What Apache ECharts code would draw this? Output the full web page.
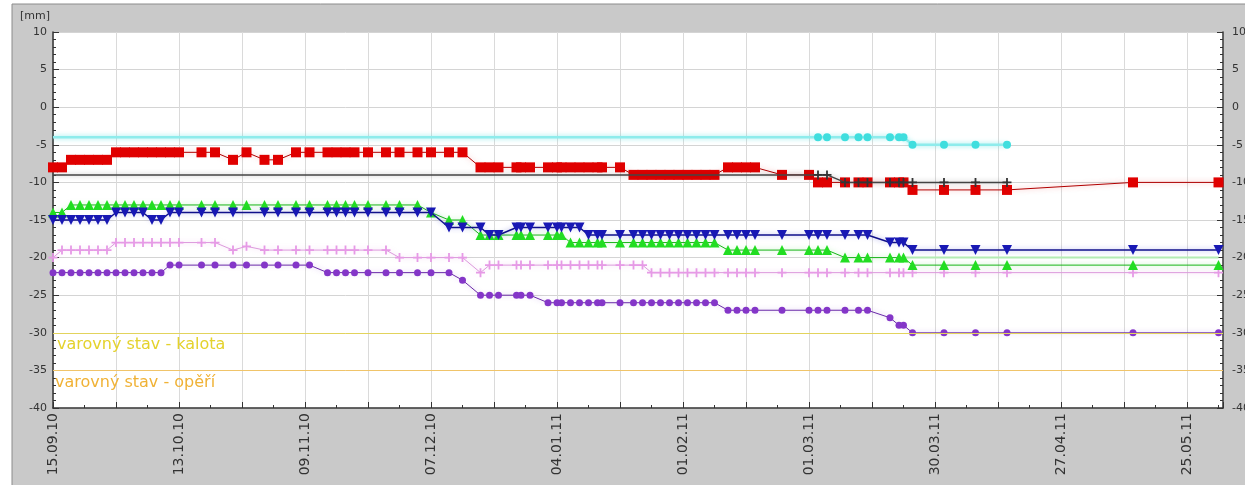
<!DOCTYPE html>
<html><head><meta charset="utf-8">
<script src="https://cdn.jsdelivr.net/npm/echarts@6/dist/echarts.min.js"></script>
<style>html,body{margin:0;padding:0;background:#fff;}#c{width:1245px;height:485px;}</style>
</head><body><div id="c"></div>
<script>
// x = days since 15.09.2010
const days = [0,2,4,6,8,10,12,14,16,18,20,22,24,26,28,
  33,36,40,43,47,50,54,57,61,63,65,67,70,74,77,81,84,88,91,
  95,97,99,103,104,106,110,112,113,115,117,119,121,122,126,
  129,131,133,135,137,139,141,143,145,147,150,152,154,156,162,
  168,170,172,176,179,181,186,188,189,191,198,205,212,240,259];
const tickLabels = ['15.09.10','13.10.10','09.11.10','07.12.10','04.01.11','01.02.11','01.03.11','30.03.11','27.04.11','25.05.11'];
const N = null;
const red = [-8,-8,-7,-7,-7,-7,-7,-6,-6,-6,-6,-6,-6,-6,-6,
  -6,-6,-7,-6,-7,-7,-6,-6,-6,-6,-6,-6,-6,-6,-6,-6,-6,-6,-6,
  -8,-8,-8,-8,-8,-8,-8,-8,-8,-8,-8,-8,-8,-8,-8,
  -9,-9,-9,-9,-9,-9,-9,-9,-9,-9,-8,-8,-8,-8,-9,
  -9,-10,-10,-10,-10,-10,-10,-10,-10,-11,-11,-11,-11,-10,-10];
const green = [-14,-14,-13,-13,-13,-13,-13,-13,-13,-13,-13,-13,-13,-13,-13,
  -13,-13,-13,-13,-13,-13,-13,-13,-13,-13,-13,-13,-13,-13,-13,-13,-14,-15,-15,
  -17,-17,-17,-17,-17,-17,-17,-17,-17,-18,-18,-18,-18,-18,-18,
  -18,-18,-18,-18,-18,-18,-18,-18,-18,-18,-19,-19,-19,-19,-19,
  -19,-19,-19,-20,-20,-20,-20,-20,-20,-21,-21,-21,-21,-21,-21];
const blue = [-15,-15,-15,-15,-15,-15,-15,-14,-14,-14,-14,-15,-15,-14,-14,
  -14,-14,-14,N,-14,-14,-14,-14,-14,-14,-14,-14,-14,-14,-14,-14,-14,-16,-16,
  -16,-17,-17,-16,-16,-16,-16,-16,-16,-16,-16,-17,-17,-17,-17,
  -17,-17,-17,-17,-17,-17,-17,-17,-17,-17,-17,-17,-17,-17,-17,
  -17,-17,-17,-17,-17,-17,-18,-18,-18,-19,-19,-19,-19,-19,-19];
const pink = [-20,-19,-19,-19,-19,-19,-19,-18,-18,-18,-18,-18,-18,-18,-18,
  -18,-18,-19,-18.5,-19,-19,-19,-19,-19,-19,-19,-19,-19,-19,-20,-20,-20,-20,-20,
  -22,-21,-21,-21,-21,-21,-21,-21,-21,-21,-21,-21,-21,-21,-21,
  -21,-21,-22,-22,-22,-22,-22,-22,-22,-22,-22,-22,-22,-22,-22,
  -22,-22,-22,-22,-22,-22,-22,-22,-22,-22,-22,-22,-22,-22,-22];
const purple = [-22,-22,-22,-22,-22,-22,-22,-22,-22,-22,-22,-22,-22,-21,-21,
  -21,-21,-21,-21,-21,-21,-21,-21,-22,-22,-22,-22,-22,-22,-22,-22,-22,-22,-23,
  -25,-25,-25,-25,-25,-25,-26,-26,-26,-26,-26,-26,-26,-26,-26,
  -26,-26,-26,-26,-26,-26,-26,-26,-26,-26,-27,-27,-27,-27,-27,
  -27,-27,-27,-27,-27,-27,-28,-29,-29,-30,-30,-30,-30,-30,-30];
const cyan = [-4,N,N,N,N,N,N,N,N,N,N,N,N,N,N,
  N,N,N,N,N,N,N,N,N,N,N,N,N,N,N,N,N,N,N,
  N,N,N,N,N,N,N,N,N,N,N,N,N,N,N,
  N,N,N,N,N,N,N,N,N,N,N,N,N,N,N,
  -4,-4,-4,-4,-4,-4,-4,-4,-4,-5,-5,-5,-5,N,N];
const black = [-9,N,N,N,N,N,N,N,N,N,N,N,N,N,N,
  N,N,N,N,N,N,N,N,N,N,N,N,N,N,N,N,N,N,N,
  N,N,N,N,N,N,N,N,N,N,N,N,N,N,N,
  N,N,N,N,N,N,N,N,N,N,N,N,N,N,N,
  -9,-9,-9,-10,-10,-10,-10,-10,-10,-10,-10,-10,-10,N,N];
const lightGreen = [N,N,N,N,N,N,N,N,N,N,N,N,N,N,N,
  N,N,N,N,N,N,N,N,N,N,N,N,N,N,N,N,N,N,N,
  N,N,N,N,N,N,N,N,N,N,N,N,N,N,N,
  N,N,N,N,N,N,N,N,N,N,N,N,N,N,N,
  N,N,N,N,N,N,N,N,-20,-20,-20,-20,-20,-20,-20];
const warnKalota = -30, warnOperi = -35;
const warnLabels = ['varovný stav - kalota','varovný stav - opěří'];

const noMarkerDays = {cyan:[0,168], black:[0,168]};
function pts(vals, hide){
  const out=[];
  days.forEach((d,i)=>{const v=vals[i]; if(v===null||v===undefined) return;
    const it={value:[d,v]}; if(hide&&hide.indexOf(d)>=0) it.symbol='none'; out.push(it);});
  return out;
}
const plus='path://M4,0L6,0L6,4L10,4L10,6L6,6L6,10L4,10L4,6L0,6L0,4L4,4Z';
const F='DejaVu Sans';
function ser(name,vals,o){
  return {name,type:'line',data:pts(vals,o.hide),symbol:o.symbol,symbolSize:o.size,
    symbolRotate:o.rot||0,showSymbol:o.symbol!=='none',
    lineStyle:{color:o.line,width:o.lw||1,shadowColor:o.halo||'rgba(0,0,0,0)',shadowBlur:o.halo?5:0},
    itemStyle:{color:o.color},silent:true,z:o.z||2,animation:false};
}
const chart=echarts.init(document.getElementById('c'),null,{renderer:'canvas'});
const axisCommon={min:-40,max:10,interval:5,
  axisLine:{show:true,lineStyle:{color:'#333',width:1.5}},
  axisTick:{show:true,inside:true,length:6,lineStyle:{color:'#333'}},
  minorTick:{show:true,splitNumber:5,length:3,lineStyle:{color:'#333'}},
  axisLabel:{fontSize:11,fontFamily:F,color:'#333'}};
chart.setOption({
  animation:false,
  backgroundColor:'#fff',
  graphic:[
    {type:'rect',z:-100,silent:true,shape:{x:12,y:4,width:1240,height:490},style:{fill:'#c9c9c9',stroke:'#8c8c8c',lineWidth:1}},
    {type:'text',x:20,y:11,silent:true,style:{text:'[mm]',fontSize:11,fontFamily:F,fill:'#333'}}
  ],
  grid:{left:53,right:22,top:32,bottom:77,show:true,backgroundColor:'#fff',borderWidth:0,containLabel:false,outerBoundsMode:'none'},
  xAxis:{type:'value',min:0,max:260,interval:14,
    axisLine:{show:true,onZero:false,lineStyle:{color:'#333',width:1.5}},
    axisTick:{show:true,inside:true,length:6,lineStyle:{color:'#333'}},
    minorTick:{show:true,splitNumber:2,length:3,lineStyle:{color:'#333'}},
    splitLine:{show:true,lineStyle:{color:'#dadada'}},
    axisLabel:{rotate:90,margin:5,fontSize:14,fontFamily:F,color:'#333',
      formatter:v=>(v%28===0&&tickLabels[v/28])?tickLabels[v/28]:''}},
  yAxis:[
    Object.assign({type:'value',position:'left',splitLine:{show:true,lineStyle:{color:'#d4d4d4'}}},axisCommon,
      {axisLabel:Object.assign({},axisCommon.axisLabel,{margin:6})}),
    Object.assign({type:'value',position:'right',splitLine:{show:false}},axisCommon,
      {axisLabel:Object.assign({},axisCommon.axisLabel,{margin:9})})
  ],
  series:[
    {type:'line',data:[],silent:true,z:1,
      markLine:{symbol:['none','none'],silent:true,animation:false,
        data:[
          {yAxis:warnKalota,lineStyle:{color:'#e2d35c',width:1,type:'solid'},
            label:{formatter:warnLabels[0],position:'insideStartBottom',distance:[4,4],color:'#e4d22c',fontSize:16,fontFamily:F}},
          {yAxis:warnOperi,lineStyle:{color:'#f0c46a',width:1,type:'solid'},
            label:{formatter:warnLabels[1],position:'insideStartBottom',distance:[2,4],color:'#f0b236',fontSize:16,fontFamily:F}}
        ]}},
    ser('cyan',cyan,{symbol:'circle',size:8,color:'#3fdede',line:'#8eecec',lw:2.5,halo:'rgba(64,224,224,0.6)',hide:noMarkerDays.cyan,z:2}),
    ser('lightgreen',lightGreen,{symbol:'none',size:0,color:'#b8f0b8',line:'#b4ecb4',lw:2,z:2}),
    ser('pink',pink,{symbol:plus,size:9,color:'#e69ae6',line:'#dc9adc',lw:1,halo:'rgba(230,150,230,0.5)',z:3}),
    ser('purple',purple,{symbol:'circle',size:7,color:'#8436c8',line:'#6a2aa8',lw:1,halo:'rgba(130,60,200,0.4)',z:3}),
    ser('red',red,{symbol:'rect',size:10,color:'#e00000',line:'#b00000',lw:1,halo:'rgba(240,60,60,0.5)',z:4}),
    ser('black',black,{symbol:plus,size:9,color:'#333',line:'#444',lw:1.5,halo:'rgba(0,0,0,0.3)',hide:noMarkerDays.black,z:5}),
    ser('green',green,{symbol:'triangle',size:10,color:'#22dd22',line:'#18b418',lw:1,halo:'rgba(60,220,60,0.5)',z:5}),
    ser('blue',blue,{symbol:'triangle',size:10,rot:180,color:'#1818b4',line:'#10108a',lw:1.5,halo:'rgba(40,40,200,0.4)',z:6})
  ]
});
</script></body></html>
